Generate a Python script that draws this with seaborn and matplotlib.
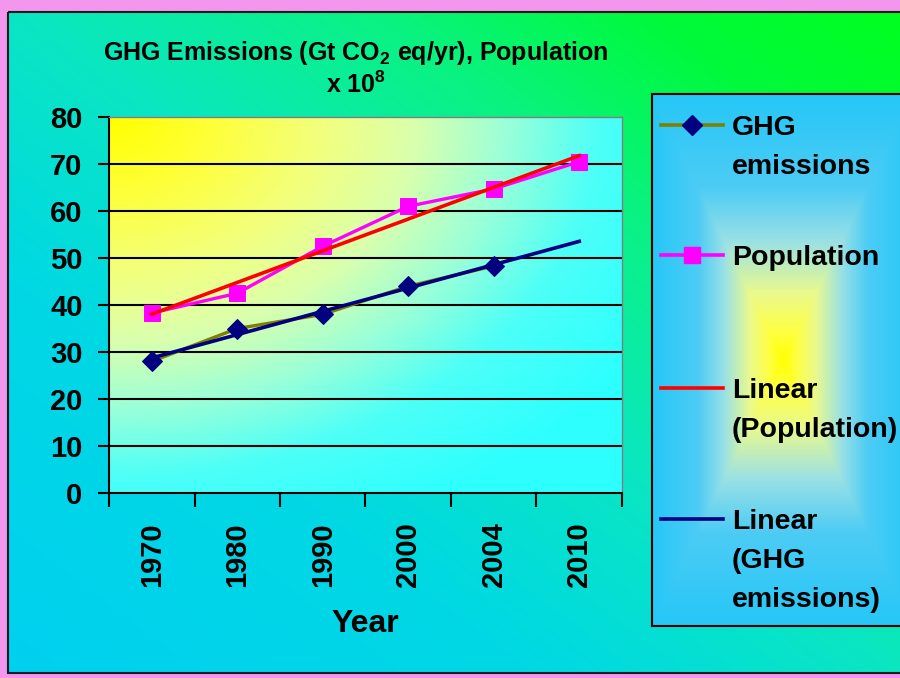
import numpy as np
import pandas as pd
import seaborn as sns
import matplotlib.pyplot as plt
from matplotlib.patches import Rectangle
from matplotlib.colors import LinearSegmentedColormap

# valores
years = ['1970', '1980', '1990', '2000', '2004', '2010']
ghg = [28.0, 35.0, 38.0, 44.0, 48.3, np.nan]
population = [38.3, 42.5, 52.5, 61.0, 64.7, 70.5]
y_ticks = [0, 10, 20, 30, 40, 50, 60, 70, 80]
legend_labels = [['GHG', 'emissions'], ['Population'],
                 ['Linear', '(Population)'], ['Linear', '(GHG', 'emissions)']]

df = pd.DataFrame({'pos': np.arange(len(years)), 'Year': years,
                   'GHG': ghg, 'Population': population})

# linhas de tendencia (como no Excel, sobre a posicao da categoria)
def trend(col):
    d = df.dropna(subset=[col])
    k, b = np.polyfit(d['pos'], d[col], 1)
    return k * df['pos'] + b

df['GHG_trend'] = trend('GHG')
df['Pop_trend'] = trend('Population')

plt.rcParams['font.family'] = ['Liberation Sans', 'DejaVu Sans']
plt.rcParams['font.weight'] = 'bold'
plt.rcParams['mathtext.fontset'] = 'custom'
plt.rcParams['mathtext.rm'] = 'Liberation Sans:bold'
plt.rcParams['mathtext.it'] = 'Liberation Sans:bold'
plt.rcParams['mathtext.bf'] = 'Liberation Sans:bold'
plt.rcParams['mathtext.default'] = 'rm'

W, H = 900, 678
fig = plt.figure(figsize=(9, 6.78), dpi=100)
fig.patch.set_facecolor('#f396ee')

# fundo do grafico (gradiente ciano -> verde)
bg = fig.add_axes([0, 0, 1, 1], zorder=-10)
xx, yy = np.meshgrid(np.linspace(8, W, 300), np.linspace(12, 673, 220))
s = (xx / W + (H - yy) / H) / 2
bg_cmap = LinearSegmentedColormap.from_list('bg', [
    (0.0, (0/255, 208/255, 240/255)),
    (0.3, (0/255, 216/255, 228/255)),
    (0.5, (10/255, 230/255, 195/255)),
    (0.7, (10/255, 242/255, 130/255)),
    (0.85, (0/255, 250/255, 60/255)),
    (1.0, (0/255, 255/255, 30/255))])
bg.imshow(s, cmap=bg_cmap, vmin=0, vmax=1, extent=(8, W, 673, 12),
          aspect='auto', interpolation='bilinear')
bg.add_patch(Rectangle((8, 12), W, 661, fill=False, ec='#1a1a1a', lw=1.5))
bg.set_xlim(0, W)
bg.set_ylim(H, 0)
bg.axis('off')

# area de plotagem
ax = fig.add_axes([109 / W, 1 - 493 / H, 513 / W, 376 / H])
u, v = np.meshgrid(np.linspace(0, 1, 260), np.linspace(0, 1, 200))
d = np.sqrt(u ** 2 + v ** 2)
area_cmap = LinearSegmentedColormap.from_list('area', [
    (0.0, (1, 1, 0)),
    (0.15, (1, 1, 0.2)),
    (0.35, (0.95, 1, 0.5)),
    (0.5, (0.85, 1, 0.68)),
    (0.65, (0.6, 1, 0.85)),
    (0.8, (0.3, 1, 0.97)),
    (1.0, (0.18, 1, 1))])
ax.imshow(d, cmap=area_cmap, vmin=0, vmax=1.2, extent=(-0.5, 5.5, 0, 80),
          aspect='auto', interpolation='bilinear', zorder=0)

sns.lineplot(data=df.dropna(subset=['GHG']), x='pos', y='GHG', ax=ax,
             color='#808000', lw=2.4, marker='D', ms=10.5,
             mfc='#000080', mec='#000080', zorder=3)
sns.lineplot(data=df, x='pos', y='Population', ax=ax,
             color='#ff00ff', lw=2.4, marker='s', ms=12,
             mfc='#ff00ff', mec='#ff00ff', zorder=3)
sns.lineplot(data=df, x='pos', y='Pop_trend', ax=ax, color='#ff0000', lw=2.6, zorder=4)
sns.lineplot(data=df, x='pos', y='GHG_trend', ax=ax, color='#000080', lw=2.6, zorder=4)

ax.set_xlim(-0.5, 5.5)
ax.set_ylim(0, 80)
ax.set_yticks(y_ticks)
ax.set_xticks(np.arange(-0.5, 6), labels=[])
ax.set_xticks(df['pos'], labels=years, minor=True)
ax.tick_params(axis='x', which='major', length=10, width=1.5, direction='out')
ax.tick_params(axis='x', which='minor', length=0, pad=21, labelsize=21, labelrotation=90)
ax.tick_params(axis='y', length=8, width=1.5, pad=11, labelsize=21)
ax.grid(axis='y', color='black', lw=1.5, zorder=1)
ax.get_ygridlines()[-1].set_visible(False)
ax.get_ygridlines()[0].set_visible(False)
ax.set_xlabel('Year', fontsize=23, fontweight='bold', labelpad=16)
ax.set_ylabel('')
for side in ['left', 'bottom']:
    ax.spines[side].set_color('black')
    ax.spines[side].set_linewidth(1.5)
for side in ['top', 'right']:
    ax.spines[side].set_color('#808080')
    ax.spines[side].set_linewidth(1)

# titulo
fig.text(356 / W, 1 - 53 / H, 'GHG Emissions (Gt CO$_2$ eq/yr), Population',
         ha='center', va='center', fontsize=18)
fig.text(356 / W, 1 - 85 / H, 'x 10$^8$', ha='center', va='center', fontsize=18)

# legenda
lg = fig.add_axes([652 / W, 1 - 626 / H, 262 / W, 532 / H])
lx, ly = np.meshgrid(np.linspace(652, 914, 200), np.linspace(94, 626, 300))
t = np.maximum(np.abs(lx - 783) / 131, np.abs(ly - 360) / 266)
leg_cmap = LinearSegmentedColormap.from_list('leg', [
    (0.0, (1, 1, 0)),
    (0.1, (1, 1, 0.25)),
    (0.25, (0.92, 0.98, 0.55)),
    (0.45, (0.6, 0.88, 0.9)),
    (0.65, (0.3, 0.8, 0.96)),
    (1.0, (0.15, 0.78, 0.97))])
lg.imshow(t, cmap=leg_cmap, vmin=0, vmax=1, extent=(652, 914, 626, 94),
          aspect='auto', interpolation='bilinear')
lg.set_xlim(652, 914)
lg.set_ylim(626, 94)
lg.set_xticks([])
lg.set_yticks([])
for sp in lg.spines.values():
    sp.set_color('black')
    sp.set_linewidth(1.5)

rows = [125, 255, 388, 519]
lg.plot([661, 723], [rows[0]] * 2, color='#808000', lw=2.6)
lg.plot([692], [rows[0]], marker='D', ms=10, color='#000080')
lg.plot([661, 723], [rows[1]] * 2, color='#ff00ff', lw=2.6)
lg.plot([692], [rows[1]], marker='s', ms=11, color='#ff00ff')
lg.plot([661, 723], [rows[2]] * 2, color='#ff0000', lw=2.6)
lg.plot([661, 723], [rows[3]] * 2, color='#000080', lw=2.6)
for y0, lines in zip(rows, legend_labels):
    for i, line in enumerate(lines):
        lg.text(732, y0 + 10 + i * 39, line, fontsize=20.5, va='baseline', ha='left')

plt.savefig('out.png', dpi=100, facecolor=fig.get_facecolor())
